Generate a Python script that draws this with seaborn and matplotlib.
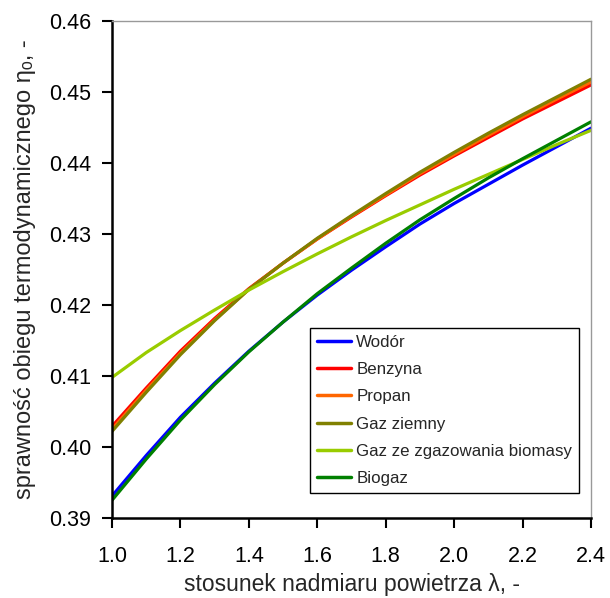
import seaborn as sns
import matplotlib.pyplot as plt
import pandas as pd

# stosunek nadmiaru powietrza
lam = [1.0, 1.1, 1.2, 1.3, 1.4, 1.5, 1.6, 1.7, 1.8, 1.9, 2.0, 2.1, 2.2, 2.3, 2.4]

wodor = [0.3931, 0.3988, 0.4042, 0.4090, 0.4135, 0.4176, 0.4214, 0.4249,
         0.4282, 0.4314, 0.4343, 0.4370, 0.4397, 0.4423, 0.4449]
benzyna = [0.4029, 0.4083, 0.4135, 0.4181, 0.4223, 0.4259, 0.4293, 0.4324,
           0.4354, 0.4383, 0.4410, 0.4436, 0.4462, 0.4486, 0.4510]
propan = [0.4025, 0.4080, 0.4132, 0.4179, 0.4222, 0.4259, 0.4293, 0.4325,
          0.4355, 0.4385, 0.4412, 0.4439, 0.4465, 0.4490, 0.4514]
gaz_ziemny = [0.4022, 0.4077, 0.4130, 0.4178, 0.4222, 0.4259, 0.4294, 0.4326,
              0.4357, 0.4387, 0.4415, 0.4442, 0.4468, 0.4493, 0.4518]
biomasa = [0.4098, 0.4133, 0.4164, 0.4193, 0.4221, 0.4247, 0.4272, 0.4296,
           0.4319, 0.4341, 0.4363, 0.4384, 0.4405, 0.4426, 0.4446]
biogaz = [0.3925, 0.3983, 0.4038, 0.4088, 0.4134, 0.4176, 0.4216, 0.4252,
          0.4287, 0.4320, 0.4350, 0.4379, 0.4406, 0.4432, 0.4458]

names = ["Wodór", "Benzyna", "Propan", "Gaz ziemny",
         "Gaz ze zgazowania biomasy", "Biogaz"]
colors = ["#0000FF", "#FF0000", "#FF6600", "#808000", "#99CC00", "#008000"]

rows = []
for name, vals in zip(names, [wodor, benzyna, propan, gaz_ziemny, biomasa, biogaz]):
    for l, v in zip(lam, vals):
        rows.append({"lam": l, "eta": v, "paliwo": name})
df = pd.DataFrame(rows)

sns.set_style("ticks")
plt.rcParams['font.family'] = ['Liberation Sans', 'DejaVu Sans']

fig = plt.figure(figsize=(6.10, 5.98), dpi=100)
ax = fig.add_axes([112/610, 1 - 518/598, (591-112)/610, (518-21)/598])

sns.lineplot(data=df, x="lam", y="eta", hue="paliwo", hue_order=names,
             palette=dict(zip(names, colors)), linewidth=2.3, ax=ax)

ax.set_xlim(1.0, 2.4)
ax.set_ylim(0.39, 0.46)
ax.set_xticks([1.0, 1.2, 1.4, 1.6, 1.8, 2.0, 2.2, 2.4])
ax.set_xticklabels(["%.1f" % t for t in ax.get_xticks()])
ax.set_yticks([0.39, 0.40, 0.41, 0.42, 0.43, 0.44, 0.45, 0.46])
ax.set_yticklabels(["%.2f" % t for t in ax.get_yticks()])
ax.tick_params(axis="both", direction="out", length=7, width=1.5,
               labelsize=15.5, colors="black")
ax.tick_params(axis="x", pad=13.5)
ax.tick_params(axis="y", pad=8)

for side in ["left", "bottom"]:
    ax.spines[side].set_color("black")
    ax.spines[side].set_linewidth(1.8)
for side in ["top", "right"]:
    ax.spines[side].set_visible(True)
    ax.spines[side].set_color("#999999")
    ax.spines[side].set_linewidth(1.0)

ax.set_xlabel("stosunek nadmiaru powietrza λ, -", fontsize=16.5, labelpad=4)
ax.set_ylabel("sprawność obiegu termodynamicznego ηₒ, -", fontsize=17, labelpad=9)

leg = ax.legend(loc="upper right", bbox_to_anchor=(0.975, 0.382), fontsize=12.2,
                frameon=True, fancybox=False, edgecolor="black", framealpha=1,
                handlelength=2.0, handletextpad=0.3, labelspacing=0.72,
                borderpad=0.4, borderaxespad=0)
leg.get_frame().set_linewidth(1.0)
for line in leg.get_lines():
    line.set_linewidth(2.5)

fig.savefig("out.png", dpi=100)
